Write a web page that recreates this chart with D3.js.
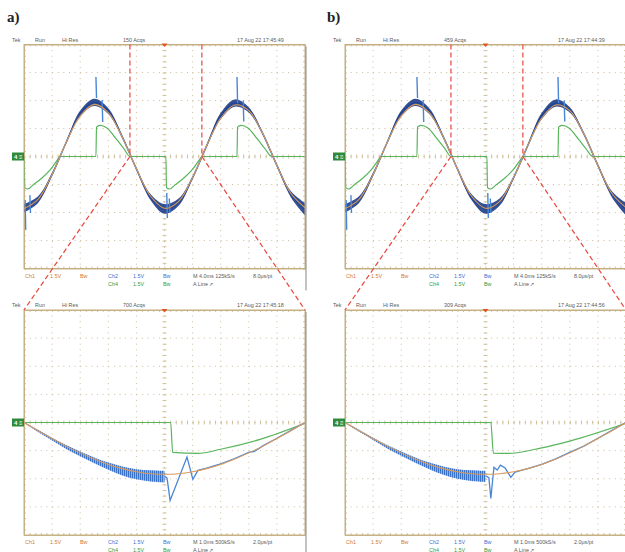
<!DOCTYPE html>
<meta charset="utf-8">
<style>
body { margin: 0; background: #fff; }
svg { display: block; font-family: Arial, "Liberation Sans", sans-serif; }
.lbl { font-family: "Liberation Serif", "DejaVu Serif", serif; font-size: 15px; font-weight: bold; fill: #222; }
.scr { font-size: 5.4px; }
.tick line { stroke: #c9b68c; }
.domain { stroke: #c9b68c; }
</style>
<body>
<svg id="fig" width="625" height="552"></svg>
<script src="https://cdn.jsdelivr.net/npm/d3@7"></script>
<script>
// all trace values in screen divisions: x 0..10, y -4..4 (up is +)

// 4 ms/div captures (both a and b look alike)
var topOrange = [[0,-1.86],[0.5,-1.53],[1,-0.64],[1.5,0.50],[2,1.45],[2.5,1.86],[3,1.57],[3.5,0.69],[4,-0.44],[4.5,-1.41],[5,-1.85],[5.5,-1.61],[6,-0.75],[6.5,0.38],[7,1.37],[7.5,1.84],[8,1.64],[8.5,0.81],[9,-0.32],[9.5,-1.32],[10,-1.83]];
// blue: [x, upper, lower] of the noisy band
var topBlue = [[0,-1.70,-2.00],[0.5,-1.42,-1.66],[1,-0.58,-0.70],[1.5,0.54,0.46],[2,1.64,1.42],[2.5,2.06,1.80],[3,1.72,1.52],[3.5,0.74,0.65],[4,-0.40,-0.48],[4.5,-1.34,-1.55],[5,-1.70,-2.04],[5.5,-1.50,-1.76],[6,-0.71,-0.80],[6.5,0.42,0.34],[7,1.56,1.33],[7.5,2.04,1.78],[8,1.76,1.57],[8.5,0.85,0.77],[9,-0.28,-0.36],[9.5,-1.24,-1.46],[10,-1.66,-2.10]];
// spikes: [x, from, to]
var topSpikes = [[0.04,-1.55,-2.62],[0.21,-1.38,-2.02],[2.56,2.84,2.09],[2.78,2.02,1.23],[5.08,-1.30,-2.20],[5.17,-1.50,-2.00],[7.58,2.84,1.90],[7.80,2.00,1.25]];
var topGreen = [[0,0],[0.036,-1.12],[0.14,-1.16],[0.32,-1.02],[0.64,-0.77],[0.93,-0.48],[1.21,-0.09],[1.28,0],[2.56,0],[2.58,1.05],[2.70,1.11],[2.95,1.02],[3.31,0.59],[3.56,0.27],[3.77,0],[5.05,0],[5.07,-1.12],[5.18,-1.16],[5.37,-1.02],[5.69,-0.77],[5.98,-0.48],[6.26,-0.09],[6.33,0],[7.58,0],[7.60,1.05],[7.72,1.11],[7.97,1.02],[8.33,0.59],[8.58,0.27],[8.82,0],[10,0]];
// part of the 4 ms capture shown again at 1 ms/div
var zoomWindow = [3.77, 6.33];

// 1 ms/div captures
var zoomOrange = [[0,0],[0.5,-0.29],[1,-0.57],[1.5,-0.84],[2,-1.08],[2.5,-1.30],[3,-1.49],[3.5,-1.64],[4,-1.75],[4.5,-1.82],[5,-1.84],[5.5,-1.82],[6,-1.75],[6.5,-1.64],[7,-1.49],[7.5,-1.30],[8,-1.08],[8.5,-0.84],[9,-0.57],[9.5,-0.29],[10,0]];
var zoomBandA = [[0,0.02,-0.02],[0.5,-0.26,-0.34],[1,-0.54,-0.64],[1.5,-0.80,-0.94],[2,-1.03,-1.20],[2.5,-1.24,-1.45],[3,-1.42,-1.68],[3.5,-1.56,-1.88],[4,-1.66,-2.02],[4.5,-1.70,-2.10],[5,-1.72,-2.14]];
var zoomTailA = [[5,-1.90],[5.09,-1.98],[5.20,-2.77],[5.80,-1.23],[6.01,-2.02],[6.19,-1.70],[6.5,-1.62],[7,-1.47],[7.5,-1.28],[8,-1.06],[8.2,-1.03],[8.5,-0.83],[9,-0.56],[9.5,-0.28],[10,0]];
var zoomGreenA = [[0,0],[5.22,0],[5.29,-1.06],[6.2,-1.10],[7,-0.95],[8.4,-0.60],[10,-0.03]];
var zoomBandB = [[0,0.02,-0.02],[0.5,-0.26,-0.33],[1,-0.54,-0.62],[1.5,-0.80,-0.92],[2,-1.03,-1.18],[2.5,-1.24,-1.43],[3,-1.42,-1.66],[3.5,-1.56,-1.86],[4,-1.66,-2.00],[4.5,-1.70,-2.08],[5,-1.72,-2.12]];
var zoomTailB = [[5,-1.90],[5.12,-1.96],[5.19,-2.70],[5.30,-1.59],[5.42,-1.69],[5.53,-1.52],[5.70,-1.62],[5.90,-1.95],[6.05,-1.76],[6.5,-1.64],[7,-1.49],[7.5,-1.29],[8,-1.06],[8.5,-0.84],[9,-0.56],[9.5,-0.28],[10,0]];
var zoomGreenB = [[0,0],[5.19,0],[5.28,-1.09],[5.8,-1.10],[7,-0.90],[8,-0.66],[10,-0.03]];

// screen texts
var acqs = ["150 Acqs", "700 Acqs", "459 Acqs", "309 Acqs"];
var stamps = ["17 Aug 22 17:45:49", "17 Aug 22 17:45:18", "17 Aug 22 17:44:39", "17 Aug 22 17:44:56"];
var timebase = ["M 4.0ms 125kS/s", "M 1.0ms 500kS/s"];
var perPoint = ["8.0\u03bcs/pt", "2.0\u03bcs/pt"];

var svg = d3.select("#fig");
var W = 281;
var cOrange = "#d99a5c", cBlue = "#4a86d6", cDark = "#1d3d8a", cGreen = "#58b55c", cRed = "#e8463c";

// vertical hatching for the noisy part of the zoomed traces
var pat = svg.append("defs").append("pattern").attr("id", "noise")
  .attr("width", 2).attr("height", 6).attr("patternUnits", "userSpaceOnUse");
pat.append("rect").attr("width", 2).attr("height", 6).attr("fill", "#8fb4e6");
pat.append("rect").attr("width", 1).attr("height", 6).attr("fill", "#3a72c8");

function drawScope(x0, y0, h, idx, kind, d) {
  var g = svg.append("g");
  var x = d3.scaleLinear().domain([0, 10]).range([x0, x0 + W]);
  var y = d3.scaleLinear().domain([-4, 4]).range([y0 + h, y0]);
  var clipId = "clip" + idx;
  g.append("clipPath").attr("id", clipId).append("rect")
    .attr("x", x0).attr("y", y0).attr("width", W).attr("height", h);

  // dotted graticule
  var grid = g.append("g").attr("stroke", "#cdbd98").attr("stroke-width", 1).attr("stroke-dasharray", "1 4.62");
  d3.range(1, 10).forEach(function(i) {
    grid.append("line").attr("x1", x(i)).attr("x2", x(i)).attr("y1", y0).attr("y2", y0 + h);
  });
  d3.range(-3, 4).forEach(function(j) {
    grid.append("line").attr("x1", x0).attr("x2", x0 + W).attr("y1", y(j)).attr("y2", y(j));
  });

  // rulers on the border and centre lines
  var minorX = d3.range(0, 10.001, 0.2), minorY = d3.range(-4, 4.001, 0.2);
  var ax = function(a, vals, size) { return a.tickValues(vals).tickFormat("").tickSizeOuter(0).tickSize(size); };
  g.append("g").attr("transform", "translate(0," + y0 + ")").call(ax(d3.axisBottom(x), minorX, 2));
  g.append("g").attr("transform", "translate(0," + (y0 + h) + ")").call(ax(d3.axisTop(x), minorX, 2));
  g.append("g").attr("transform", "translate(" + x0 + ",0)").call(ax(d3.axisRight(y), minorY, 2));
  g.append("g").attr("transform", "translate(" + (x0 + W) + ",0)").call(ax(d3.axisLeft(y), minorY, 2));
  g.append("g").attr("transform", "translate(0," + (y(0) - 2) + ")").call(ax(d3.axisBottom(x), minorX, 4)).select(".domain").remove();
  g.append("g").attr("transform", "translate(" + (x(5) - 2) + ",0)").call(ax(d3.axisRight(y), minorY, 4)).select(".domain").remove();
  g.selectAll(".tick line").attr("stroke-width", 0.8);

  var line = d3.line().x(function(p) { return x(p[0]); }).y(function(p) { return y(p[1]); });
  var band = d3.area().x(function(p) { return x(p[0]); }).y0(function(p) { return y(p[2]); }).y1(function(p) { return y(p[1]); });
  var tr = g.append("g").attr("clip-path", "url(#" + clipId + ")").attr("fill", "none");

  tr.append("path").attr("d", d3.line().curve(d3.curveMonotoneX).x(function(p) { return x(p[0]); }).y(function(p) { return y(p[1]); })(d.green))
    .attr("stroke", cGreen).attr("stroke-width", 1.2);
  if (kind === "top") {
    tr.append("path").attr("d", line.curve(d3.curveCatmullRom)(d.band.map(function(p) { return [p[0], (p[1] + p[2]) / 2]; })))
      .attr("stroke", cBlue).attr("stroke-width", 1.6);
    tr.append("path").attr("d", band.curve(d3.curveCatmullRom)(d.band)).attr("fill", cDark).attr("fill-opacity", 0.9);
    tr.selectAll(".spike").data(d.spikes).enter().append("line")
      .attr("x1", function(p) { return x(p[0]); }).attr("x2", function(p) { return x(p[0]) + 0.6; })
      .attr("y1", function(p) { return y(p[1]); }).attr("y2", function(p) { return y(p[2]); })
      .attr("stroke", cBlue).attr("stroke-width", 1.4);
  } else {
    tr.append("path").attr("d", band.curve(d3.curveCatmullRom)(d.band)).attr("fill", "url(#noise)");
    tr.append("path").attr("d", line.curve(d3.curveLinear)(d.tail)).attr("stroke", cBlue).attr("stroke-width", 1.3);
  }
  tr.append("path").attr("d", line.curve(d3.curveCatmullRom)(d.orange)).attr("stroke", cOrange).attr("stroke-width", 1.1);

  // border on top of everything
  g.append("rect").attr("x", x0).attr("y", y0).attr("width", W).attr("height", h)
    .attr("fill", "none").attr("stroke", "#c4ad7e").attr("stroke-width", 1);
  g.append("line").attr("x1", x0 + W + 1).attr("x2", x0 + W + 1).attr("y1", y0 + 2).attr("y2", y0 + h + 22)
    .attr("stroke", "#9a9a9a").attr("stroke-width", 1.2);

  // trigger mark and channel marker
  g.append("path").attr("d", "M" + (x(5) - 3) + "," + (y0 - 1) + "h6l-3,3.5z").attr("fill", "#e2561e");
  g.append("rect").attr("x", x0 - 12).attr("y", y(0) - 4).attr("width", 12).attr("height", 8).attr("fill", "#2f8a3c");
  g.append("text").attr("x", x0 - 10).attr("y", y(0) + 2.2).attr("fill", "#fff").attr("font-size", 6).attr("font-weight", "bold").text("4 \u2261");

  // header
  var hy = y0 - 2.7;
  var head = [["Tek", -12], ["Run", 11], ["Hi Res", 38], [acqs[idx], 99], [stamps[idx], 213]];
  head.forEach(function(t) {
    g.append("text").attr("class", "scr").attr("x", x0 + t[1]).attr("y", hy).style("fill", "#5a5a5a").text(t[0]);
  });

  // footer
  var f1 = y0 + h + 9, f2 = f1 + 8, ti = kind === "top" ? 0 : 1;
  var foot = [
    ["Ch1", 1, f1, "#d07a34"], ["1.5V", 26, f1, "#d07a34"], ["Bw", 56, f1, "#d07a34"],
    ["Ch2", 84, f1, "#3b6fd4"], ["1.5V", 109, f1, "#3b6fd4"], ["Bw", 139, f1, "#3b6fd4"],
    ["Ch4", 84, f2, "#2f9a3c"], ["1.5V", 109, f2, "#2f9a3c"], ["Bw", 139, f2, "#2f9a3c"],
    [timebase[ti], 169, f1, "#5a5a5a"], [perPoint[ti], 229, f1, "#5a5a5a"], ["A  Line  \u2197", 169, f2, "#5a5a5a"]
  ];
  foot.forEach(function(t) {
    g.append("text").attr("class", "scr").attr("x", x0 + t[1]).attr("y", t[2]).style("fill", t[3]).text(t[0]);
  });
  return { x: x, y: y };
}

var topD = { orange: topOrange, band: topBlue, spikes: topSpikes, green: topGreen };
var aTop = drawScope(24, 44.5, 224, 0, "top", topD);
var aBot = drawScope(24, 310, 225, 1, "zoom", { orange: zoomOrange, band: zoomBandA, tail: zoomTailA, green: zoomGreenA });
var bTop = drawScope(345, 44.5, 224, 2, "top", topD);
var bBot = drawScope(345, 310, 225, 3, "zoom", { orange: zoomOrange, band: zoomBandB, tail: zoomTailB, green: zoomGreenB });

// red dashed zoom markers
var red = svg.append("g").attr("stroke", cRed).attr("stroke-width", 1.2).attr("stroke-dasharray", "5 3").attr("fill", "none");
[[aTop, aBot], [bTop, bBot]].forEach(function(pair) {
  var t = pair[0], b = pair[1];
  zoomWindow.forEach(function(v, i) {
    red.append("line").attr("x1", t.x(v)).attr("x2", t.x(v)).attr("y1", t.y(4)).attr("y2", t.y(0));
    red.append("line").attr("x1", t.x(v)).attr("y1", t.y(0)).attr("x2", b.x(i * 10)).attr("y2", b.y(4));
  });
});

svg.append("text").attr("class", "lbl").attr("x", 7).attr("y", 22).text("a)");
svg.append("text").attr("class", "lbl").attr("x", 327).attr("y", 22).text("b)");
</script>
</body>
